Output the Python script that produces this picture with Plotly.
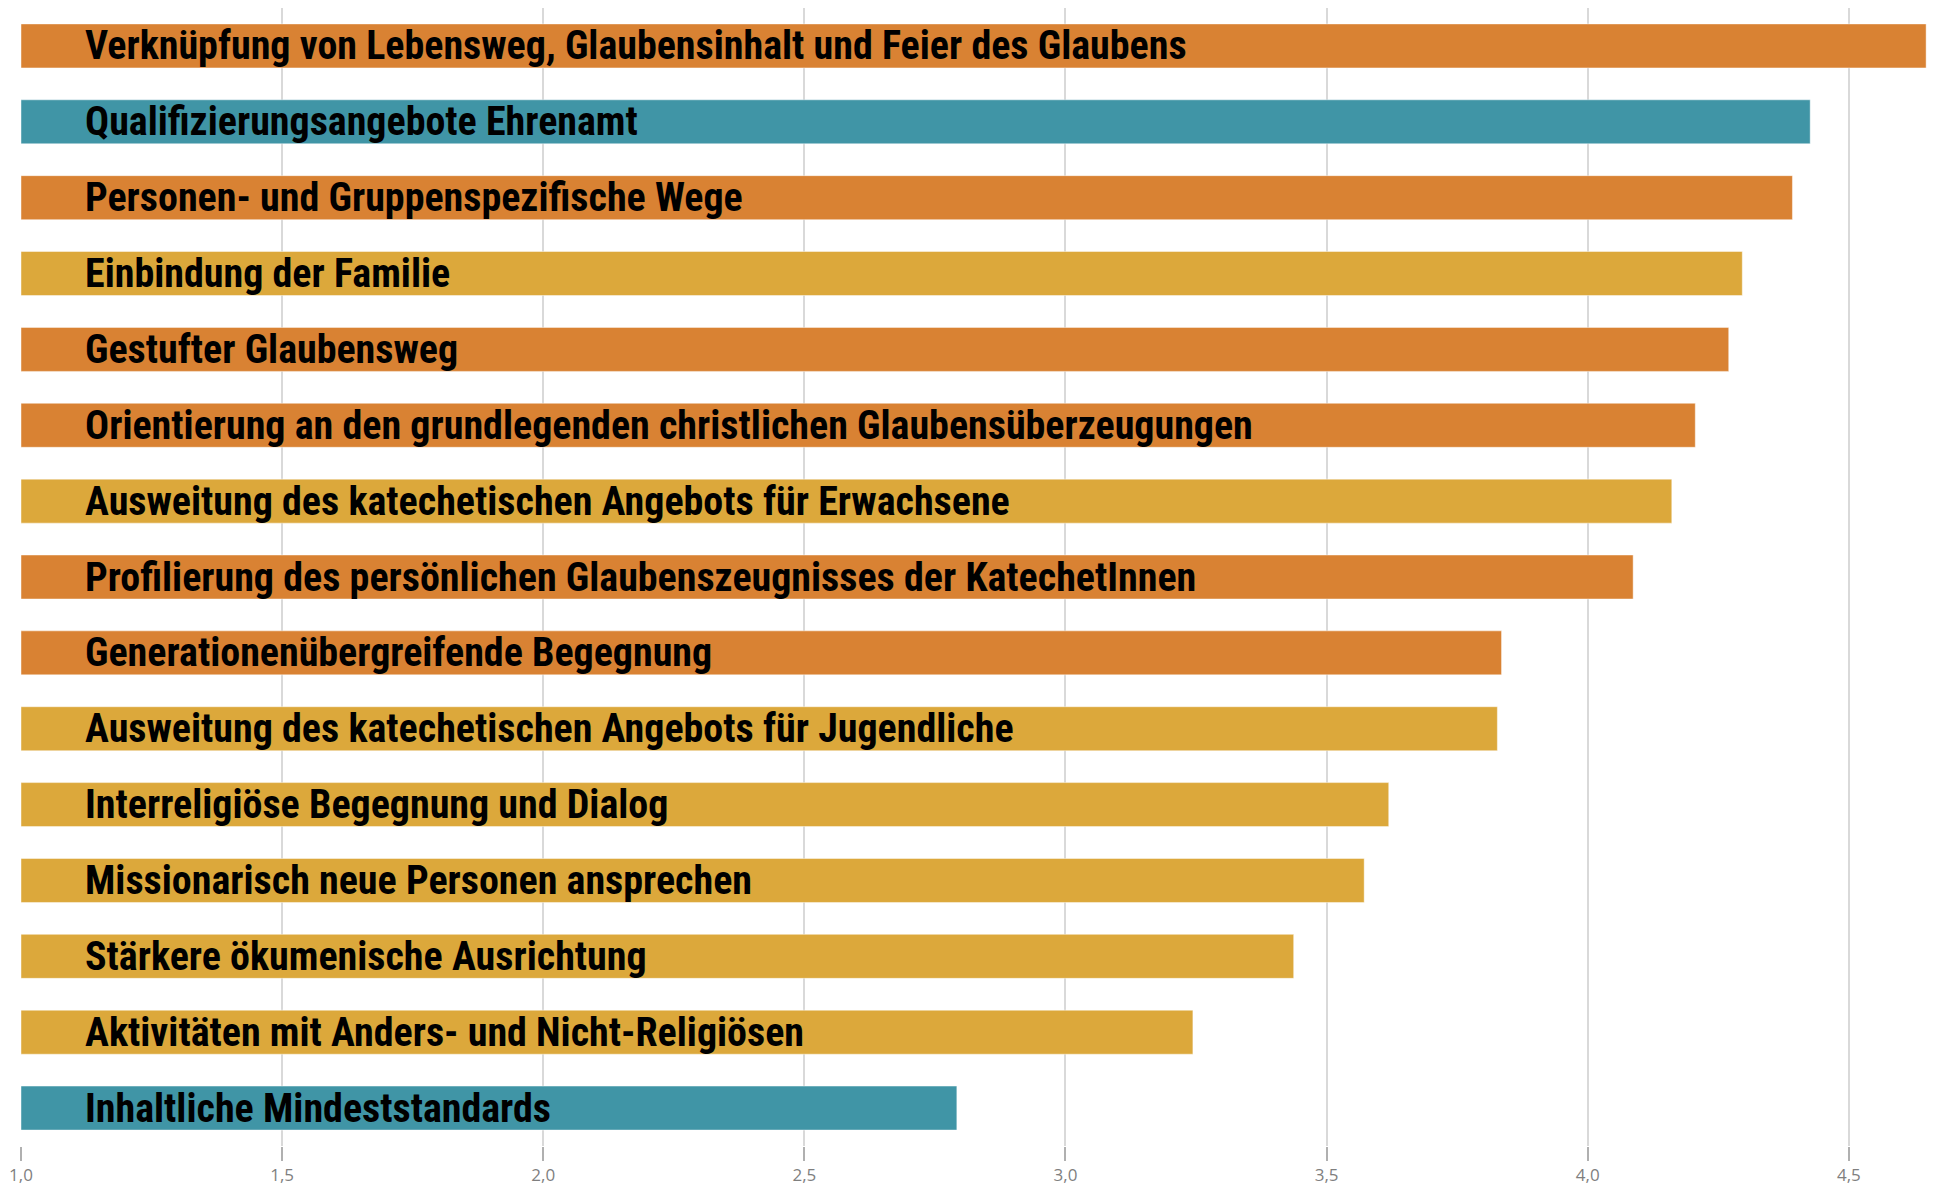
import plotly.graph_objects as go

categories = [
    "Verknüpfung von Lebensweg, Glaubensinhalt und Feier des Glaubens",
    "Qualifizierungsangebote Ehrenamt",
    "Personen- und Gruppenspezifische Wege",
    "Einbindung der Familie",
    "Gestufter Glaubensweg",
    "Orientierung an den grundlegenden christlichen Glaubensüberzeugungen",
    "Ausweitung des katechetischen Angebots für Erwachsene",
    "Profilierung des persönlichen Glaubenszeugnisses der KatechetInnen",
    "Generationenübergreifende Begegnung",
    "Ausweitung des katechetischen Angebots für Jugendliche",
    "Interreligiöse Begegnung und Dialog",
    "Missionarisch neue Personen ansprechen",
    "Stärkere ökumenische Ausrichtung",
    "Aktivitäten mit Anders- und Nicht-Religiösen",
    "Inhaltliche Mindeststandards",
]
values = [4.648, 4.426, 4.392, 4.296, 4.270, 4.206, 4.161, 4.087,
          3.835, 3.827, 3.619, 3.572, 3.437, 3.244, 2.792]
groups = ["o", "t", "o", "g", "o", "o", "g", "o", "o", "g", "g", "g", "g", "g", "t"]
tick_vals = [1.0, 1.5, 2.0, 2.5, 3.0, 3.5, 4.0, 4.5]

palette = {"o": "#D98233", "t": "#4095A6", "g": "#DCA83B"}
colors = [palette[g] for g in groups]

fig = go.Figure()
fig.add_trace(go.Bar(
    x=[v - 1.0 for v in values], base=1.0, y=categories, orientation="h",
    marker=dict(color=colors, line=dict(color="rgba(255,255,255,0.45)", width=1)),
    hoverinfo="x+y", showlegend=False,
))

for cat in categories:
    fig.add_annotation(
        x=1.118, y=cat, xref="x", yref="y", text="<b>" + cat + "</b>", showarrow=False,
        xanchor="left", yanchor="middle",
        font=dict(family="Roboto Condensed, DejaVu Sans Condensed", size=40, color="#000000"),
    )

# the page body has an 8px default margin, so the figure is sized to fit
fig.update_layout(
    width=1927, height=1178,
    margin=dict(l=13, r=0, t=0, b=40),
    plot_bgcolor="white", paper_bgcolor="white",
    separators=",.",
    bargap=0.42,
    xaxis=dict(
        range=[1.0, 4.665], tickvals=tick_vals, tickformat=".1f",
        showgrid=True, gridcolor="#d9d9d9", gridwidth=2,
        ticks="outside", ticklen=14, tickwidth=2, tickcolor="#b0b0b0",
        tickfont=dict(family="Open Sans", size=17, color="#7f7f7f"),
        zeroline=False, showline=False, automargin=False,
    ),
    yaxis=dict(
        categoryorder="array", categoryarray=categories, autorange="reversed",
        showticklabels=False, showgrid=False, zeroline=False, showline=False,
        automargin=False,
    ),
)

fig.write_html("out.html")
